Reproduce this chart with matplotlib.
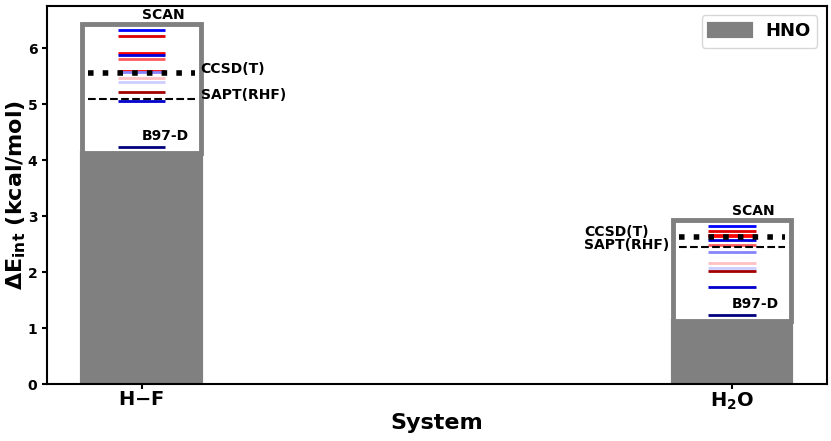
import numpy as np
import matplotlib
matplotlib.use("Agg")
import matplotlib.pyplot as plt

# systems and per-method interaction energies (kcal/mol)
systems = [r'$\mathbf{H{-}F}$', r'$\mathbf{H_2O}$']
methods = ['SCAN', 'M06-2X', 'wB97X-D', 'PBE0-D3', 'B3LYP-D3', 'TPSS-D3',
           'revPBE-D3', 'BLYP-D3', 'PBE-D3', 'M06-L', 'B97M-V', 'B97-D']
method_cvals = [0.25, 0.82, 0.75, 0.20, 0.66, 0.75, 0.38, 0.56, 0.45, 0.93, 0.18, 0.07]
hf_vals = [6.33, 6.22, 5.92, 5.88, 5.80, 5.59, 5.57, 5.47, 5.39, 5.22, 5.06, 4.23]
h2o_vals = [2.83, 2.74, 2.66, 2.57, 2.49, 2.65, 2.36, 2.16, 2.08, 2.02, 1.74, 1.23]
ccsdt = [5.55, 2.625]
sapt = [5.09, 2.45]

cmap = plt.get_cmap('seismic')
fig = plt.figure(figsize=(8.31, 4.41), dpi=100)
ax = fig.add_axes([0.0566, 0.129, 0.938, 0.857])

x = np.arange(len(systems))
width = 0.2
all_vals = [hf_vals, h2o_vals]
lows = [min(v) - 0.1 for v in all_vals]
highs = [max(v) + 0.1 for v in all_vals]

# gray base bar and white range box
ax.bar(x, lows, width, color='gray', edgecolor='gray', linewidth=3, label='HNO')
ax.bar(x, np.array(highs) - np.array(lows), width, bottom=lows, color='white',
       edgecolor='gray', linewidth=3.5)

for i, vals in enumerate(all_vals):
    for v, c in zip(vals, method_cvals):
        ax.hlines(v, x[i] - 0.04, x[i] + 0.04, color=cmap(c), lw=2)
    ax.hlines(ccsdt[i], x[i] - 0.09, x[i] + 0.09, color='black', lw=4, linestyles=':')
    ax.hlines(sapt[i], x[i] - 0.09, x[i] + 0.09, color='black', lw=1.5, linestyles='--')
    # labels for reference lines: right of the box for H-F, left for H2O
    if i == 0:
        tx, up, dn = x[i] + 0.1, 0.07, 0.07
    else:
        tx, up, dn = x[i] - 0.25, 0.1, 0.04
    ax.text(tx, ccsdt[i] + up, 'CCSD(T)', ha='left', va='center', fontsize=10, fontweight='bold')
    ax.text(tx, sapt[i] + dn, 'SAPT(RHF)', ha='left', va='center', fontsize=10, fontweight='bold')
    imax = int(np.argmax(vals))
    imin = int(np.argmin(vals))
    ax.text(x[i], vals[imax] + 0.13, methods[imax], ha='left', va='bottom',
            fontsize=10, fontweight='bold')
    ax.text(x[i], vals[imin] + 0.08, methods[imin], ha='left', va='bottom',
            fontsize=10, fontweight='bold')

ax.set_ylim(0, 6.75)
ax.set_xticks(x)
ax.set_xticklabels(systems, fontsize=14, fontweight='bold')
ax.set_xlabel('System', fontsize=16, fontweight='bold', labelpad=1)
ax.set_ylabel(r'$\mathbf{\Delta E_{int}}$ (kcal/mol)', fontsize=16, fontweight='bold', labelpad=0)
for lab in ax.get_yticklabels():
    lab.set_fontweight('bold')
    lab.set_fontsize(10)
ax.tick_params(width=1.5)
ax.tick_params(axis='x', pad=1)
for s in ax.spines.values():
    s.set_linewidth(1.5)
ax.legend(loc='upper right', prop={'weight': 'bold', 'size': 13}, handlelength=2.3)

fig.savefig('out.png', dpi=100)
